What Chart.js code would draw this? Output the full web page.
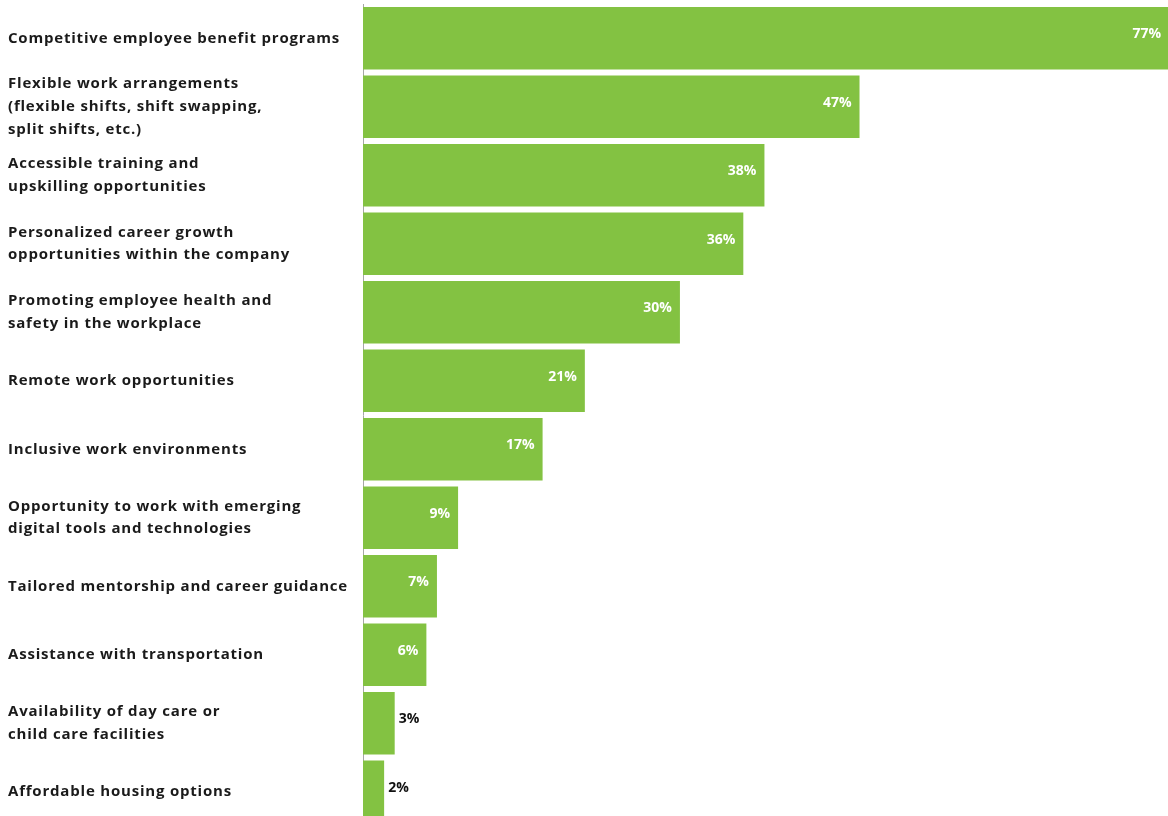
<!DOCTYPE html>
<html lang="en">
<head>
    <meta charset="UTF-8">
    <title>Employee benefits - Horizontal Bar Chart</title>
    <script src="https://cdn.jsdelivr.net/npm/chart.js"></script>
    <style>
        html, body {
            margin: 0;
            padding: 0;
            background: #ffffff;
            overflow: hidden;
        }
        #wrap {
            position: relative;
            width: 1168px;
            height: 830px;
        }
    </style>
</head>
<body>
    <div id="wrap">
        <canvas id="benefitChart"></canvas>
    </div>

    <script>
        // Categories (multi-line labels as shown)
        const categories = [
            ['Competitive employee benefit programs'],
            ['Flexible work arrangements', '(flexible shifts, shift swapping,', 'split shifts, etc.)'],
            ['Accessible training and', 'upskilling opportunities'],
            ['Personalized career growth', 'opportunities within the company'],
            ['Promoting employee health and', 'safety in the workplace'],
            ['Remote work opportunities'],
            ['Inclusive work environments'],
            ['Opportunity to work with emerging', 'digital tools and technologies'],
            ['Tailored mentorship and career guidance'],
            ['Assistance with transportation'],
            ['Availability of day care or', 'child care facilities'],
            ['Affordable housing options'],
        ];

        // Share of respondents (%)
        const shares = [77, 47, 38, 36, 30, 21, 17, 9, 7, 6, 3, 2];

        const barColor = '#83c242';

        // Draws the percentage labels: inside (white) for wider bars, outside (black) for thin ones
        const valueLabels = {
            id: 'valueLabels',
            afterDatasetsDraw(chart) {
                const ctx = chart.ctx;
                const meta = chart.getDatasetMeta(0);
                const area = chart.chartArea;
                ctx.save();
                ctx.letterSpacing = '0px';
                ctx.font = 'bold 14px "Open Sans", sans-serif';
                ctx.textBaseline = 'middle';
                meta.data.forEach((bar, i) => {
                    const text = shares[i] + '%';
                    const end = Math.min(bar.x, area.right + 1);
                    const width = end - bar.base;
                    if (width > 50) {
                        ctx.fillStyle = '#ffffff';
                        ctx.textAlign = 'right';
                        ctx.fillText(text, end - 8, bar.y - 4);
                    } else {
                        ctx.fillStyle = '#111111';
                        ctx.textAlign = 'left';
                        ctx.fillText(text, end + 4, bar.y - 4);
                    }
                });
                ctx.restore();
            }
        };

        // Wider tracking for the category labels
        const tracking = {
            id: 'tracking',
            beforeDraw(chart) {
                chart.ctx.letterSpacing = '0.8px';
            }
        };

        const ctx = document.getElementById('benefitChart').getContext('2d');
        new Chart(ctx, {
            type: 'bar',
            data: {
                labels: categories,
                datasets: [{
                    data: shares,
                    backgroundColor: barColor,
                    borderWidth: 0,
                    categoryPercentage: 1,
                    barPercentage: 0.91,
                }],
            },
            options: {
                indexAxis: 'y',
                responsive: true,
                maintainAspectRatio: false,
                animation: false,
                layout: {
                    padding: { left: 8, right: 0, top: 4, bottom: 4 },
                },
                scales: {
                    x: {
                        display: false,
                        min: 0,
                        max: 76.2,
                    },
                    y: {
                        afterFit(scale) {
                            scale.width = 355;
                            scale.paddingTop = 0;
                            scale.paddingBottom = 0;
                        },
                        grid: { display: false },
                        border: { display: true, color: '#a6a6a6', width: 1 },
                        ticks: {
                            crossAlign: 'far',
                            color: '#1a1a1a',
                            autoSkip: false,
                            font: {
                                family: '"Open Sans", sans-serif',
                                size: 15,
                                weight: 'bold',
                                lineHeight: 1.53,
                            },
                        },
                    },
                },
                plugins: {
                    legend: { display: false },
                    tooltip: { enabled: false },
                },
            },
            plugins: [tracking, valueLabels],
        });
    </script>
</body>
</html>
